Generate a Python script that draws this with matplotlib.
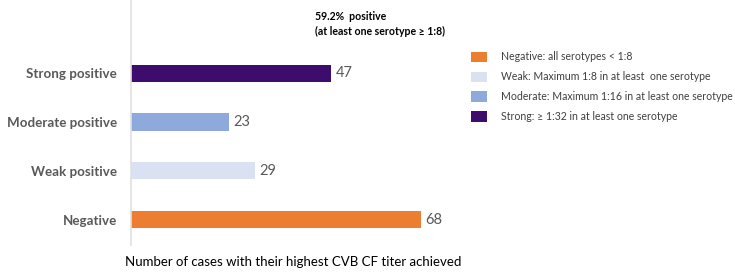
import matplotlib.pyplot as plt
from matplotlib.patches import Patch

categories = ['Negative', 'Weak positive', 'Moderate positive', 'Strong positive']
counts = [68, 29, 23, 47]
colors = ['#ED7D31', '#D9E1F2', '#8EA9DB', '#3D0C6C']
legend_labels = ['Negative: all serotypes < 1:8',
                 'Weak: Maximum 1:8 in at least  one serotype',
                 'Moderate: Maximum 1:16 in at least one serotype',
                 'Strong: \u2265 1:32 in at least one serotype']
note = '59.2%  positive\n(at least one serotype \u2265 1:8)'
xlabel = 'Number of cases with their highest CVB CF titer achieved'

W, H = 735, 274
fig = plt.figure(figsize=(W / 100, H / 100), dpi=100)
plt.rcParams['font.family'] = ['Lato', 'DejaVu Sans']

# axes placed in pixel terms
left, top, bottom = 131, 0, 245
ax = fig.add_axes([left / W, 1 - bottom / H, (W - left) / W, (bottom - top) / H])
px_per_unit = 290 / 68
ax.set_xlim(0, (W - left) / px_per_unit)
ax.set_ylim(-0.52, 4.5)

y = range(len(categories))
ax.barh(y, counts, height=0.35, color=colors)
for yi, c in zip(y, counts):
    ax.text(c + 1, yi, str(c), va='center', ha='left', fontsize=10.5, color='#595959')

ax.set_yticks(list(y))
ax.set_yticklabels(categories, fontsize=9.6, fontweight='bold', color='#595959')
ax.tick_params(axis='y', length=0, pad=10)
ax.set_xticks([])
for s in ['top', 'right', 'bottom']:
    ax.spines[s].set_visible(False)
ax.spines['left'].set_color('#e0e0e0')
ax.spines['left'].set_linewidth(1.2)

fig.text(315 / W, 1 - 11 / H, note, ha='left', va='top', fontsize=7.6,
         fontweight='bold', color='black', linespacing=1.45)

handles = [Patch(facecolor=c, edgecolor='none') for c in colors]
fig.legend(handles, legend_labels, loc='upper left', bbox_to_anchor=(461 / W, 1 - 42 / H),
           frameon=False, fontsize=7.6, handlelength=1.55, handleheight=1.2,
           labelspacing=0.85, handletextpad=1.35, labelcolor='#404040')

fig.text(293 / W, 1 - 262 / H, xlabel, ha='center', va='center', fontsize=9.5, color='black')

fig.savefig('out.png', dpi=100)
